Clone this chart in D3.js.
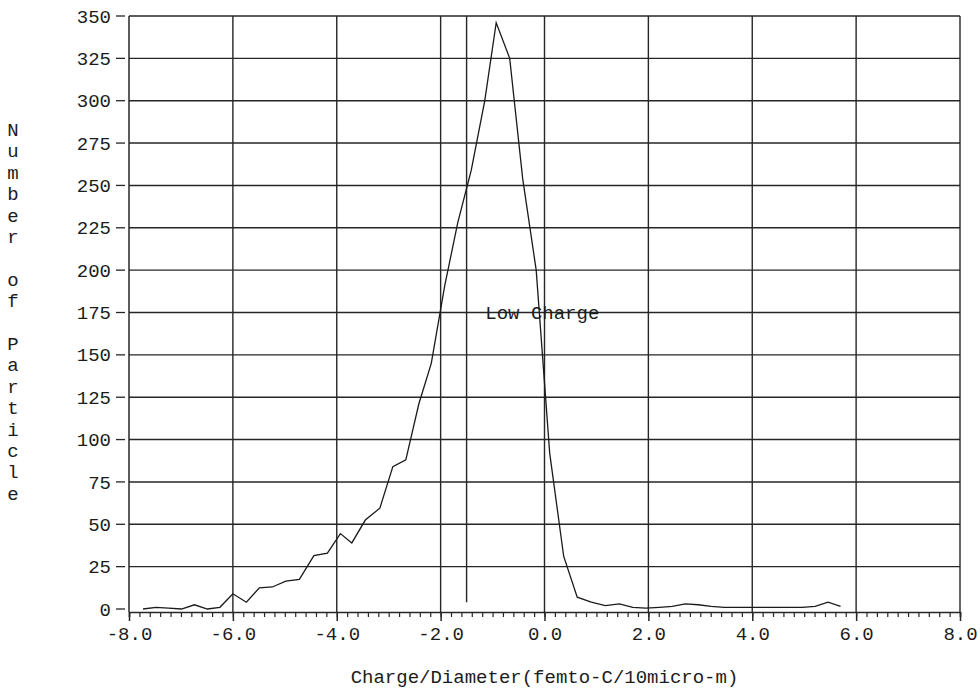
<!DOCTYPE html>
<html>
<head>
<meta charset="utf-8">
<script src="https://cdn.jsdelivr.net/npm/d3@7"></script>
<style>
body { margin: 0; background: #fff; }
text { font-family: "Liberation Mono", monospace; fill: #1c1c1c; }
</style>
</head>
<body>
<svg id="chart"></svg>
<script>
var charge = [-7.73, -7.48, -7.24, -6.99, -6.74, -6.49, -6.25, -6.00, -5.74, -5.49,
  -5.24, -4.98, -4.72, -4.44, -4.18, -3.93, -3.71, -3.45, -3.17, -2.92,
  -2.67, -2.42, -2.18, -1.92, -1.67, -1.41, -1.15, -0.93, -0.67, -0.42,
  -0.16, 0.10, 0.37, 0.63, 0.90, 1.17, 1.44, 1.70, 1.95, 2.21,
  2.46, 2.71, 2.96, 3.21, 3.46, 3.71, 3.96, 4.21, 4.46, 4.71,
  4.96, 5.21, 5.46, 5.70];
var count = [0, 1, 0.5, 0, 2.5, 0, 1, 9, 4, 12.5,
  13, 16.5, 17.5, 31.5, 33, 44.5, 39, 52.5, 59.5, 84,
  88, 121, 145, 191, 228, 259, 300, 346, 325, 254,
  200, 92, 31, 7, 4, 2, 3, 1, 0.5, 1,
  1.5, 3, 2.5, 1.5, 1, 1, 1, 1, 1, 1,
  1, 1.5, 4, 1.5];
var xTicks = [-8, -6, -4, -2, 0, 2, 4, 6, 8];
var xGrid = [-6, -4, -2, -1.5, 0, 2, 4, 6, 8];
var yTicks = [0, 25, 50, 75, 100, 125, 150, 175, 200, 225, 250, 275, 300, 325, 350];
var xTitle = "Charge/Diameter(femto-C/10micro-m)";
var yTitle = "Number of Particle";
var note = "Low Charge";

var width = 980, height = 690;
var svg = d3.select("#chart")
  .attr("width", width)
  .attr("height", height);

var x = d3.scaleLinear().domain([-8, 8]).range([129, 960]);
var y = d3.scaleLinear().domain([0, 350]).range([609, 16]);
var axisY = y(0) + 3;
var ink = "#262626";

// horizontal grid lines (350 is the top border)
svg.append("g")
  .selectAll("line")
  .data(yTicks.filter(function(d) { return d > 0; }))
  .enter().append("line")
  .attr("x1", x(-8)).attr("x2", x(8))
  .attr("y1", function(d) { return y(d); })
  .attr("y2", function(d) { return y(d); })
  .attr("stroke", ink)
  .attr("stroke-width", 1.4);

// vertical grid lines
svg.append("g")
  .selectAll("line")
  .data(xGrid)
  .enter().append("line")
  .attr("x1", function(d) { return x(d); })
  .attr("x2", function(d) { return x(d); })
  .attr("y1", y(350))
  .attr("y2", function(d) { return d === -1.5 ? y(4) : axisY; })
  .attr("stroke", ink)
  .attr("stroke-width", 1.4);

// left axis
svg.append("g")
  .attr("transform", "translate(" + x(-8) + ",0)")
  .call(d3.axisLeft(y).tickValues(yTicks).tickSize(0).tickPadding(18))
  .call(function(g) {
    g.select(".domain").remove();
    g.selectAll("text").attr("font-size", 19).attr("font-family", "Liberation Mono").attr("fill", "#1c1c1c");
  });

svg.append("g")
  .selectAll("line")
  .data(yTicks)
  .enter().append("line")
  .attr("x1", x(-8) - 13).attr("x2", x(-8) - 4)
  .attr("y1", function(d) { return y(d); })
  .attr("y2", function(d) { return y(d); })
  .attr("stroke", ink)
  .attr("stroke-width", 1.3);

svg.append("line")
  .attr("x1", x(-8)).attr("x2", x(-8))
  .attr("y1", y(350)).attr("y2", axisY)
  .attr("stroke", ink)
  .attr("stroke-width", 1.5);

// bottom axis with minor ticks
svg.append("g")
  .attr("transform", "translate(0," + axisY + ")")
  .call(d3.axisBottom(x).ticks(80).tickSize(5).tickFormat(""))
  .call(function(g) {
    g.selectAll("line").attr("stroke", ink).attr("stroke-width", 1.2);
    g.select(".domain").attr("stroke", ink).attr("stroke-width", 1.5);
  });

svg.append("g")
  .attr("transform", "translate(0," + axisY + ")")
  .call(d3.axisBottom(x).tickValues(xTicks).tickSize(9).tickPadding(6)
    .tickFormat(function(d) { return d.toFixed(1); }))
  .call(function(g) {
    g.select(".domain").remove();
    g.selectAll("line").attr("stroke", ink).attr("stroke-width", 1.5);
    g.selectAll("text").attr("font-size", 19).attr("font-family", "Liberation Mono").attr("fill", "#1c1c1c");
  });

// the curve
var line = d3.line()
  .x(function(d, i) { return x(charge[i]); })
  .y(function(d) { return y(d); });

svg.append("path")
  .datum(count)
  .attr("d", line)
  .attr("fill", "none")
  .attr("stroke", "#1a1a1a")
  .attr("stroke-width", 1.3);

svg.append("text")
  .attr("x", x(-1.14))
  .attr("y", y(171))
  .attr("font-size", 19)
  .text(note);

svg.append("text")
  .attr("x", (x(-8) + x(8)) / 2)
  .attr("y", 683)
  .attr("text-anchor", "middle")
  .attr("font-size", 19)
  .text(xTitle);

// stacked vertical title
svg.append("text")
  .attr("x", 13)
  .attr("y", 136)
  .attr("text-anchor", "middle")
  .attr("font-size", 19)
  .selectAll("tspan")
  .data(yTitle.split(""))
  .enter().append("tspan")
  .attr("x", 13)
  .attr("dy", function(d, i) { return i === 0 ? 0 : 21.4; })
  .text(function(d) { return d === " " ? "\u00a0" : d; });
</script>
</body>
</html>
